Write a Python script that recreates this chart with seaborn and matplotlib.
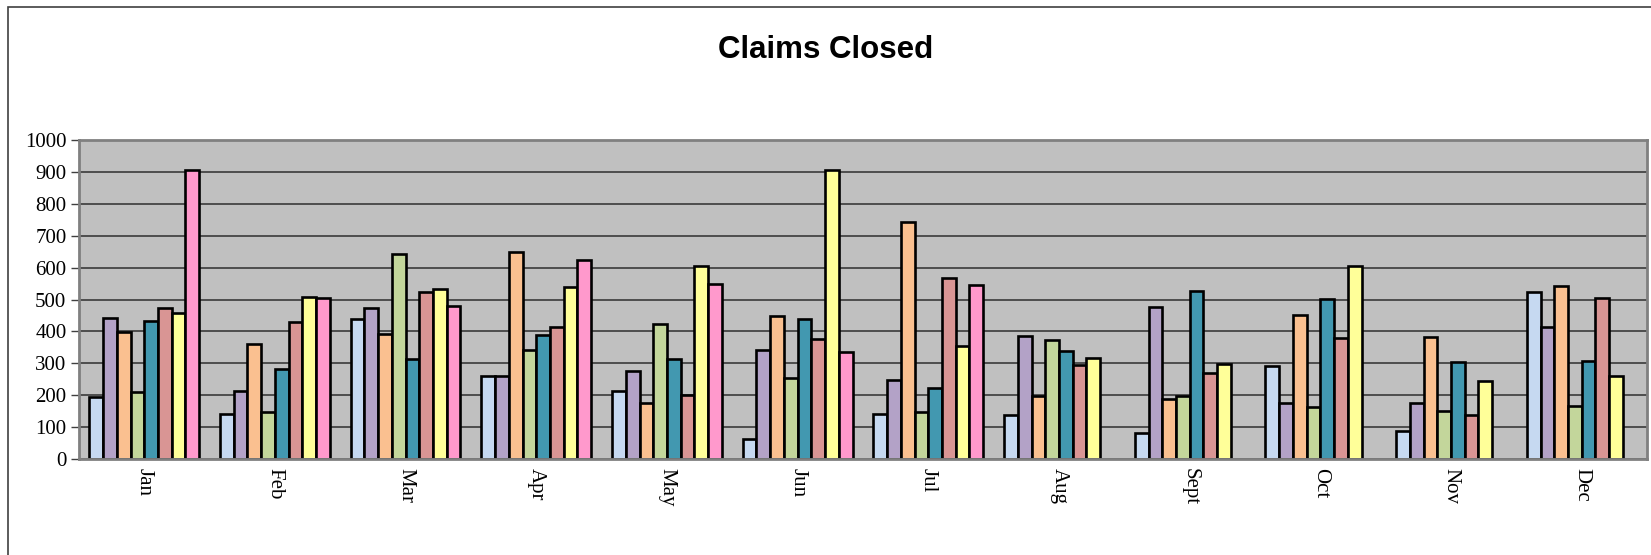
import matplotlib
matplotlib.use("Agg")
import matplotlib.pyplot as plt
import matplotlib.patches as mpatches
import seaborn as sns
import numpy as np
import pandas as pd

# -------------------------
# DATA
# -------------------------
months = ["Jan", "Feb", "Mar", "Apr", "May", "Jun",
          "Jul", "Aug", "Sept", "Oct", "Nov", "Dec"]
series_names = ["Series 1", "Series 2", "Series 3", "Series 4",
                "Series 5", "Series 6", "Series 7", "Series 8"]

s1 = [193, 141, 439, 259, 214, 64, 142, 137, 81, 292, 89, 523]
s2 = [443, 214, 472, 259, 277, 341, 248, 386, 475, 174, 177, 413]
s3 = [399, 361, 392, 649, 176, 449, 744, 198, 188, 451, 382, 543]
s4 = [210, 146, 644, 342, 422, 253, 147, 374, 197, 162, 151, 167]
s5 = [432, 283, 314, 389, 314, 439, 222, 339, 526, 502, 304, 306]
s6 = [473, 428, 522, 415, 201, 377, 568, 294, 271, 380, 137, 505]
s7 = [458, 508, 534, 538, 604, 906, 355, 316, 299, 606, 244, 259]
s8 = [907, 505, 480, 625, 548, 334, 545, np.nan, np.nan, np.nan, np.nan, np.nan]

colors = ["#C6D9F1", "#B3A2C7", "#FAC090", "#C3D69B",
          "#4298B0", "#D99594", "#FFFF99", "#FF99CC"]

all_series = [s1, s2, s3, s4, s5, s6, s7, s8]
rows = []
for name, vals in zip(series_names, all_series):
    for m, v in zip(months, vals):
        rows.append({"Month": m, "Series": name, "Claims": v})
df = pd.DataFrame(rows)

# -------------------------
# PLOT
# -------------------------
sns.set_style("white")
fig = plt.figure(figsize=(16.51, 5.55), dpi=100)
ax = fig.add_axes([0.0478, 0.173, 0.9498, 0.5747])
ax.set_facecolor("#C0C0C0")

sns.barplot(data=df, x="Month", y="Claims", hue="Series", order=months,
            hue_order=series_names, palette=colors, width=0.84,
            edgecolor="black", linewidth=1.9, saturation=1,
            legend=False, ax=ax)

ax.set_ylim(0, 1000)
ax.set_yticks(range(0, 1001, 100))
ax.set_xlim(-0.5, 11.5)
ax.yaxis.grid(True, color="#3a3a3a", linewidth=1.2)
ax.set_axisbelow(True)
for sp in ax.spines.values():
    sp.set_color("#808080")
    sp.set_linewidth(2)

ax.set_xlabel("")
ax.set_ylabel("")
ax.tick_params(axis="y", left=True, length=6, width=1, color="#404040",
               labelsize=15, labelcolor="black", pad=3)
ax.tick_params(axis="x", bottom=False, labelsize=15, labelcolor="black", pad=3)
for lbl in ax.get_yticklabels() + ax.get_xticklabels():
    lbl.set_fontfamily("Liberation Serif")
for lbl in ax.get_xticklabels():
    lbl.set_rotation(270)
    lbl.set_va("top")
    lbl.set_ha("center")

fig.text(0.5, 0.91, "Claims Closed", ha="center", va="center", color="black",
         fontsize=22.5, fontweight="bold", family="Liberation Sans")

# outer chart border
border = mpatches.Rectangle((0.005, -0.05), 1.2, 1.038, transform=fig.transFigure,
                            fill=False, edgecolor="#404040", linewidth=1.2)
fig.patches.append(border)

fig.savefig("out.png", dpi=100)
plt.close()
